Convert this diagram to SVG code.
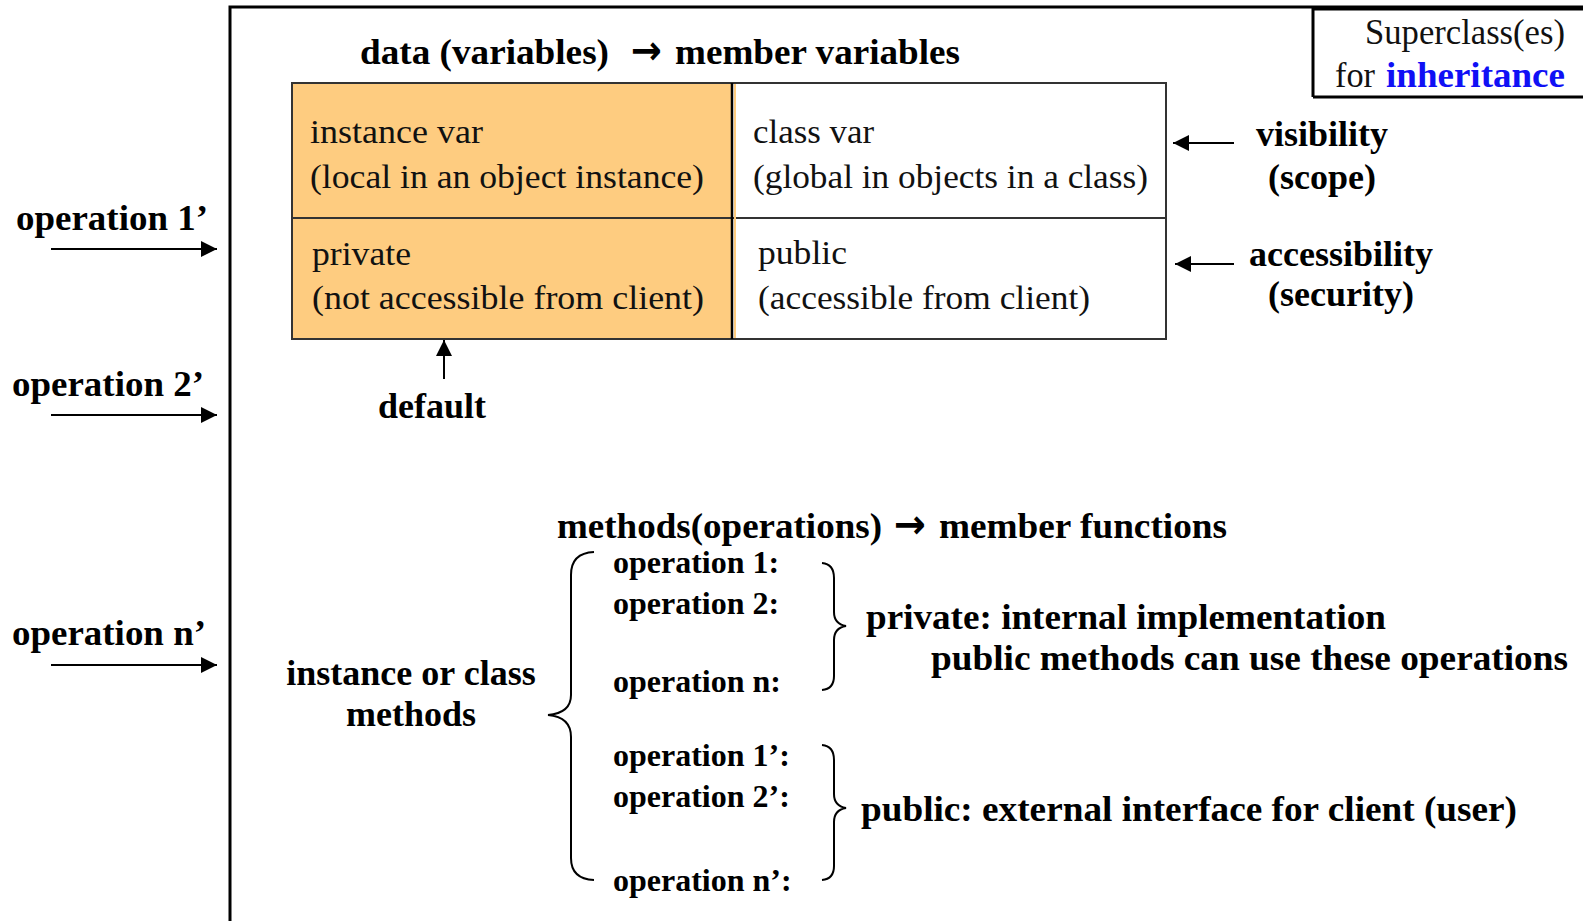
<svg xmlns="http://www.w3.org/2000/svg" width="1583" height="921" viewBox="0 0 1583 921">
<style>
.b{font-family:"Liberation Serif","Times New Roman",serif;font-weight:bold;fill:#000}
.r{font-family:"Liberation Serif","Times New Roman",serif;fill:#111}
.arr{font-family:"DejaVu Sans",sans-serif;font-weight:bold;font-size:40px;fill:#000}
.big{font-size:36px}
.op{font-size:32px}
.cell{font-size:34px}
.ln{stroke:#000;stroke-width:2;fill:none}
.br{stroke:#000;stroke-width:2;fill:none}
</style>
<defs>
<marker id="ah" viewBox="0 0 16 16" refX="16" refY="8" markerWidth="16" markerHeight="16" markerUnits="userSpaceOnUse" orient="auto">
<path d="M0,0 L16,8 L0,16 Z" fill="#000"/>
</marker>
</defs>
<rect width="1583" height="921" fill="#fff"/>

<g id="frame">
<path d="M230,921 L230,7 L1583,7" stroke="#000" stroke-width="3" fill="none"/>
</g>

<g id="superclass">
<path d="M1313,97 L1313,9 L1583,9 M1313,97 L1583,97" stroke="#000" stroke-width="3" fill="none"/>
<text class="r" x="1365" y="44" font-size="35" textLength="200" lengthAdjust="spacingAndGlyphs">Superclass(es)</text>
<text class="r" x="1335" y="87" font-size="35" textLength="40" lengthAdjust="spacingAndGlyphs">for</text>
<text class="b" x="1386" y="87" font-size="35" style="fill:#1010F5" textLength="179" lengthAdjust="spacingAndGlyphs">inheritance</text>
</g>

<g id="data-title">
<text class="b big" x="360" y="64" textLength="249" lengthAdjust="spacingAndGlyphs">data (variables)</text>
<text class="arr" x="631" y="64" textLength="31" lengthAdjust="spacingAndGlyphs">→</text>
<text class="b big" x="675" y="64" textLength="285" lengthAdjust="spacingAndGlyphs">member variables</text>
</g>

<g id="table">
<rect x="292" y="83" width="440" height="256" fill="#FECC80"/>
<rect x="292" y="83" width="874" height="256" fill="none" stroke="#333" stroke-width="2"/>
<line x1="292" y1="218" x2="1166" y2="218" stroke="#333" stroke-width="2"/>
<line x1="732" y1="83" x2="732" y2="339" stroke="#000" stroke-width="2.5"/>
<line x1="735" y1="84" x2="735" y2="338" stroke="#FECC80" stroke-width="2"/>
</g>

<g id="cell-instance-var">
<text class="r cell" x="310" y="143" textLength="173" lengthAdjust="spacingAndGlyphs">instance var</text>
<text class="r cell" x="310" y="188" textLength="394" lengthAdjust="spacingAndGlyphs">(local in an object instance)</text>
</g>
<g id="cell-class-var">
<text class="r cell" x="753" y="143" textLength="121" lengthAdjust="spacingAndGlyphs">class var</text>
<text class="r cell" x="753" y="188" textLength="395" lengthAdjust="spacingAndGlyphs">(global in objects in a class)</text>
</g>
<g id="cell-private">
<text class="r cell" x="312" y="265" textLength="99" lengthAdjust="spacingAndGlyphs">private</text>
<text class="r cell" x="312" y="309" textLength="392" lengthAdjust="spacingAndGlyphs">(not accessible from client)</text>
</g>
<g id="cell-public">
<text class="r cell" x="758" y="264" textLength="89" lengthAdjust="spacingAndGlyphs">public</text>
<text class="r cell" x="758" y="309" textLength="332" lengthAdjust="spacingAndGlyphs">(accessible from client)</text>
</g>

<g id="label-visibility">
<text class="b big" x="1322" y="146" text-anchor="middle">visibility</text>
<text class="b big" x="1322" y="189" text-anchor="middle">(scope)</text>
</g>
<g id="label-accessibility">
<text class="b big" x="1341" y="266" text-anchor="middle">accessibility</text>
<text class="b big" x="1341" y="306" text-anchor="middle">(security)</text>
</g>
<g id="label-default">
<text class="b big" x="432" y="418" text-anchor="middle">default</text>
</g>

<g id="ext-operations">
<text class="b big" x="16" y="230" textLength="192" lengthAdjust="spacingAndGlyphs">operation 1’</text>
<text class="b big" x="12" y="396" textLength="192" lengthAdjust="spacingAndGlyphs">operation 2’</text>
<text class="b big" x="12" y="645" textLength="194" lengthAdjust="spacingAndGlyphs">operation n’</text>
</g>

<g id="methods-title">
<text class="b big" x="557" y="538" textLength="325" lengthAdjust="spacingAndGlyphs">methods(operations)</text>
<text class="arr" x="894" y="538" textLength="32" lengthAdjust="spacingAndGlyphs">→</text>
<text class="b big" x="939" y="538" textLength="288" lengthAdjust="spacingAndGlyphs">member functions</text>
</g>

<g id="methods-label">
<text class="b big" x="411" y="685" text-anchor="middle">instance or class</text>
<text class="b big" x="411" y="726" text-anchor="middle">methods</text>
</g>

<g id="private-ops">
<text class="b op" x="613" y="573">operation 1:</text>
<text class="b op" x="613" y="614">operation 2:</text>
<text class="b op" x="613" y="692">operation n:</text>
</g>
<g id="public-ops">
<text class="b op" x="613" y="766">operation 1’:</text>
<text class="b op" x="613" y="807">operation 2’:</text>
<text class="b op" x="613" y="891">operation n’:</text>
</g>

<g id="private-desc">
<text class="b big" x="866" y="629" textLength="520" lengthAdjust="spacingAndGlyphs">private: internal implementation</text>
<text class="b big" x="931" y="670" textLength="637" lengthAdjust="spacingAndGlyphs">public methods can use these operations</text>
</g>
<g id="public-desc">
<text class="b big" x="861" y="821" textLength="656" lengthAdjust="spacingAndGlyphs">public: external interface for client (user)</text>
</g>

<g id="connectors">
<line class="ln" x1="1234" y1="143" x2="1173" y2="143" marker-end="url(#ah)"/>
<line class="ln" x1="1234" y1="264" x2="1175" y2="264" marker-end="url(#ah)"/>
<line class="ln" x1="444" y1="379" x2="444" y2="340" marker-end="url(#ah)"/>
<line class="ln" x1="51" y1="249" x2="217" y2="249" marker-end="url(#ah)"/>
<line class="ln" x1="51" y1="415" x2="217" y2="415" marker-end="url(#ah)"/>
<line class="ln" x1="51" y1="665" x2="217" y2="665" marker-end="url(#ah)"/>
<path class="br" d="M594,552 Q571,553 571,575 L571,695 Q571,713 548,715 Q571,717 571,737 L571,858 Q571,879 594,880"/>
<path class="br" d="M822,563 Q834,564 834,578 L834,612 Q834,624 846,626 Q834,628 834,640 L834,676 Q834,689 822,690"/>
<path class="br" d="M822,745 Q834,746 834,760 L834,794 Q834,806 846,808 Q834,810 834,822 L834,866 Q834,879 822,880"/>
</g>
</svg>
